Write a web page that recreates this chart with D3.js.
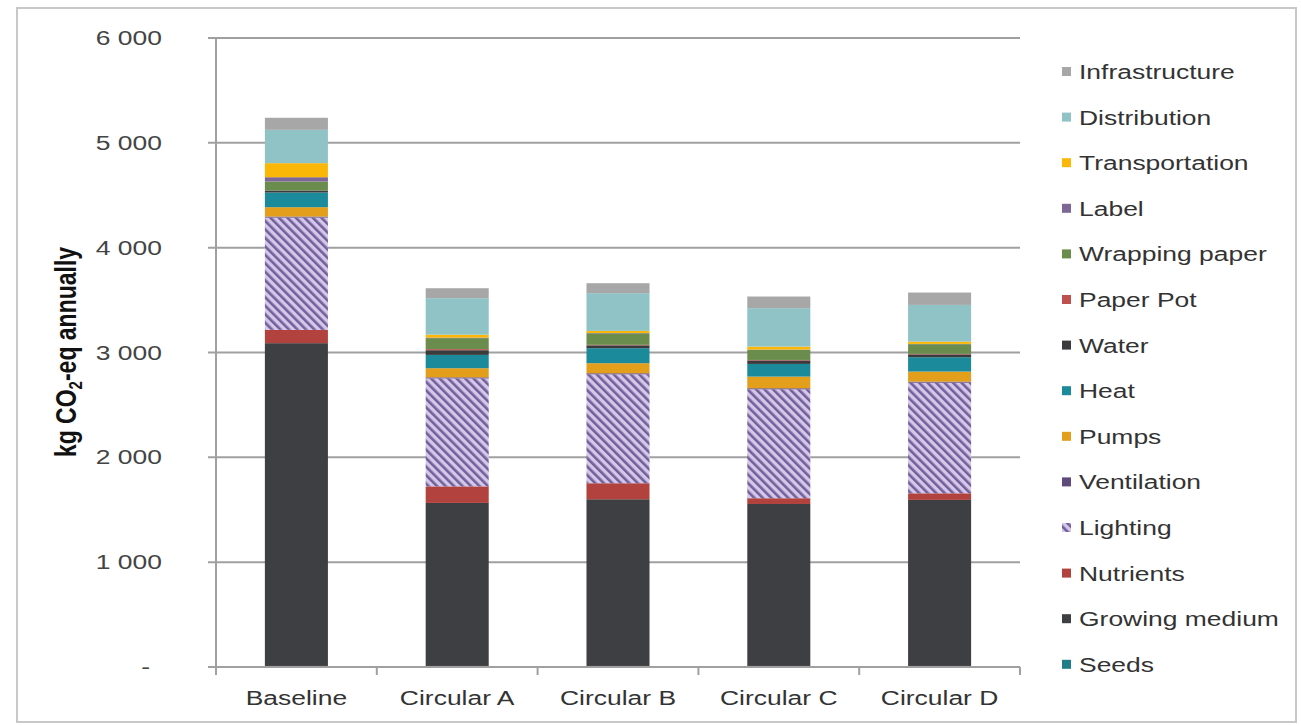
<!DOCTYPE html>
<html>
<head>
<meta charset="utf-8">
<script src="https://cdn.jsdelivr.net/npm/d3@7"></script>
<style>
  html, body { margin: 0; padding: 0; background: #fff; }
  svg { display: block; }
  text { font-family: "Liberation Sans", Arial, sans-serif; }
</style>
</head>
<body>
<svg id="chart" width="1301" height="726"></svg>
<script>
const categories = ["Baseline", "Circular A", "Circular B", "Circular C", "Circular D"];

// stacking order bottom -> top
const seriesNames = ["Seeds", "Growing medium", "Nutrients", "Lighting", "Ventilation", "Pumps", "Heat",
  "Water", "Paper Pot", "Wrapping paper", "Label", "Transportation", "Distribution", "Infrastructure"];

const seeds          = [10, 10, 10, 10, 10];
const growingMedium  = [3079, 1555, 1590, 1545, 1584];
const nutrients      = [127, 158, 153, 55, 63];
const lighting       = [1071, 1030, 1039, 1039, 1055];
const ventilation    = [10, 10, 10, 10, 10];
const pumps          = [89, 87, 96, 111, 96];
const heat           = [140, 127, 143, 121, 137];
const water          = [19, 45, 27, 33, 27];
const paperPot       = [0, 10, 5, 5, 5];
const wrappingPaper  = [86, 105, 110, 96, 92];
const label          = [41, 5, 3, 3, 3];
const transportation = [134, 28, 20, 28, 22];
const distribution   = [318, 348, 360, 367, 350];
const infrastructure = [115, 95, 95, 111, 118];

const yTicks = [0, 1000, 2000, 3000, 4000, 5000, 6000];
const yTickLabels = ["-", "1 000", "2 000", "3 000", "4 000", "5 000", "6 000"];

const seriesValues = [seeds, growingMedium, nutrients, lighting, ventilation, pumps, heat,
  water, paperPot, wrappingPaper, label, transportation, distribution, infrastructure];

const colors = {
  "Seeds": "#1f7d88",
  "Growing medium": "#3e3f42",
  "Nutrients": "#b2423e",
  "Lighting": "url(#hatch)",
  "Ventilation": "#5f4a7d",
  "Pumps": "#e39e1c",
  "Heat": "#1b8b9b",
  "Water": "#3a3b3d",
  "Paper Pot": "#c0504d",
  "Wrapping paper": "#6a8c4c",
  "Label": "#7c6796",
  "Transportation": "#fbb707",
  "Distribution": "#8fc3c6",
  "Infrastructure": "#a7a7a7"
};

const SX = 1.26; // horizontal stretch of the original picture

const table = categories.map((c, i) => {
  const row = { category: c };
  seriesNames.forEach((s, k) => row[s] = seriesValues[k][i]);
  return row;
});

const svg = d3.select("#chart");

// pattern for lighting
const defs = svg.append("defs");
const pat = defs.append("pattern")
  .attr("id", "hatch")
  .attr("patternUnits", "userSpaceOnUse")
  .attr("width", 6).attr("height", 6)
  .attr("patternTransform", "rotate(-45)");
pat.append("rect").attr("width", 6).attr("height", 6).attr("fill", "#d4c8e8");
pat.append("rect").attr("width", 2.6).attr("height", 6).attr("fill", "#735e9c");

// outer frame
svg.append("rect")
  .attr("x", 17).attr("y", 8).attr("width", 1279).attr("height", 714)
  .attr("fill", "none").attr("stroke", "#c8c8c8").attr("stroke-width", 2);

const x0 = 216, x1 = 1020, yTop = 38, yBot = 667;

const x = d3.scaleBand().domain(categories).range([x0, x1])
  .paddingInner(0.608).paddingOuter(0.304);
const y = d3.scaleLinear().domain([0, 6000]).range([yBot, yTop]);

// gridlines + left ticks
const grid = svg.append("g");
grid.selectAll("line").data(yTicks.filter(d => d > 0)).join("line")
  .attr("x1", x0 - 8).attr("x2", x1)
  .attr("y1", d => y(d)).attr("y2", d => y(d))
  .attr("stroke", "#a0a0a0").attr("stroke-width", 2);

// y tick labels
svg.append("g").selectAll("text").data(yTicks).join("text")
  .attr("transform", (d, i) => `translate(${i === 0 ? 150 : 162},${y(d) + 7}) scale(${SX},1)`)
  .attr("text-anchor", "end")
  .attr("font-size", 21)
  .attr("fill", "#444")
  .text((d, i) => yTickLabels[i]);

// y axis title
const yt = svg.append("text")
  .attr("transform", `translate(76,352) scale(${SX},1) rotate(-90)`)
  .attr("text-anchor", "middle")
  .attr("font-size", 23)
  .attr("font-weight", "bold")
  .attr("fill", "#111");
yt.append("tspan").text("kg CO");
yt.append("tspan").attr("font-size", 15).attr("dy", 5).text("2");
yt.append("tspan").attr("dy", -5).text("-eq annually");

// stacked bars
const stack = d3.stack().keys(seriesNames);
const layers = stack(table);

svg.append("g").selectAll("g").data(layers).join("g")
  .attr("fill", d => colors[d.key])
  .selectAll("rect").data(d => d).join("rect")
  .attr("x", d => x(d.data.category))
  .attr("width", x.bandwidth())
  .attr("y", d => y(d[1]))
  .attr("height", d => Math.max(0, y(d[0]) - y(d[1])));

// axes lines
svg.append("line").attr("x1", x0).attr("x2", x0).attr("y1", yTop).attr("y2", yBot)
  .attr("stroke", "#a0a0a0").attr("stroke-width", 2);
svg.append("line").attr("x1", x0 - 8).attr("x2", x1).attr("y1", yBot).attr("y2", yBot)
  .attr("stroke", "#a0a0a0").attr("stroke-width", 2);

// category boundary ticks
const boundaries = categories.map(c => x(c) - x.step() * x.paddingInner() / 2).concat([x1]);
svg.append("g").selectAll("line").data(boundaries).join("line")
  .attr("x1", d => d).attr("x2", d => d)
  .attr("y1", yBot).attr("y2", yBot + 8)
  .attr("stroke", "#a0a0a0").attr("stroke-width", 2);

// category labels
svg.append("g").selectAll("text").data(categories).join("text")
  .attr("transform", d => `translate(${x(d) + x.bandwidth() / 2},705) scale(${SX},1)`)
  .attr("text-anchor", "middle")
  .attr("font-size", 21)
  .attr("fill", "#333")
  .text(d => d);

// legend (top = Infrastructure)
const legendItems = seriesNames.slice().reverse();
const lg = svg.append("g").selectAll("g").data(legendItems).join("g")
  .attr("transform", (d, i) => `translate(1062,${72 + i * 45.6})`);
lg.append("rect")
  .attr("x", 0).attr("y", -5).attr("width", 9).attr("height", 9)
  .attr("fill", d => d === "Lighting" ? "url(#hatch)" : colors[d]);
lg.append("text")
  .attr("transform", `translate(17,7) scale(${SX},1)`)
  .attr("font-size", 21)
  .attr("fill", "#333")
  .text(d => d);
</script>
</body>
</html>
